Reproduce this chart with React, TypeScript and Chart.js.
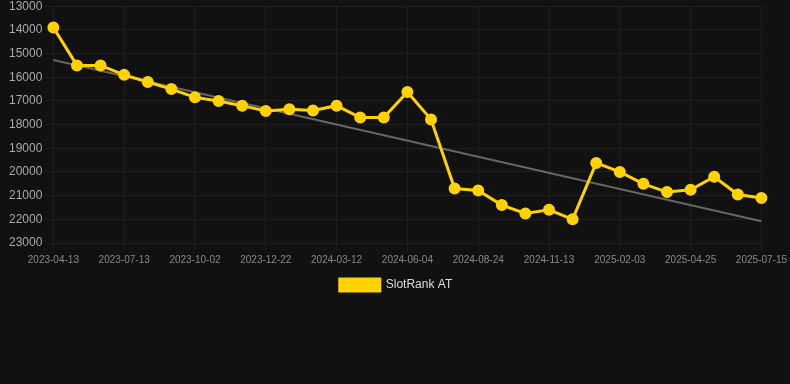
import React, { useEffect, useRef } from "react";
import { Chart, registerables } from "chart.js";

Chart.register(...registerables);

const categories = [
  "2023-04-13", "2023-05-13", "2023-06-13", "2023-07-13", "2023-08-09", "2023-09-05",
  "2023-10-02", "2023-10-29", "2023-11-25", "2023-12-22", "2024-01-18", "2024-02-14",
  "2024-03-12", "2024-04-08", "2024-05-06", "2024-06-04", "2024-07-01", "2024-07-28",
  "2024-08-24", "2024-09-20", "2024-10-17", "2024-11-13", "2024-12-10", "2025-01-07",
  "2025-02-03", "2025-03-02", "2025-03-29", "2025-04-25", "2025-05-22", "2025-06-18",
  "2025-07-15",
];

const slotRankAT = [
  13900, 15500, 15500, 15900, 16200, 16500, 16850, 17000, 17200, 17430, 17350,
  17400, 17200, 17700, 17700, 16620, 17780, 20700, 20780, 21400, 21750, 21600,
  22000, 19620, 20000, 20500, 20850, 20750, 20200, 20950, 21100,
];

const trendEnds = [15270, 22080];

const yTicks = [13000, 23000];

export default function App() {
  const ref = useRef<HTMLCanvasElement | null>(null);

  useEffect(() => {
    document.body.style.margin = "0";
    document.body.style.background = "#111111";
    const trend = categories.map((_, i) =>
      i === 0 ? trendEnds[0] : i === categories.length - 1 ? trendEnds[1] : null
    );
    const chart = new Chart(ref.current!, {
      type: "line",
      data: {
        labels: categories,
        datasets: [
          {
            label: "SlotRank AT",
            data: slotRankAT,
            borderColor: "#FFD200",
            backgroundColor: "#FFD200",
            borderWidth: 3,
            pointRadius: 4.5,
            pointBackgroundColor: "#FFD200",
            pointBorderColor: "#FFD200",
            tension: 0,
          },
          {
            label: "trend",
            data: trend,
            borderColor: "#666666",
            backgroundColor: "#666666",
            borderWidth: 2,
            pointRadius: 0,
            spanGaps: true,
          },
        ],
      },
      options: {
        animation: false,
        responsive: false,
        maintainAspectRatio: false,
        layout: { padding: { top: 0, right: 4, left: 6, bottom: 0 } },
        plugins: {
          tooltip: { enabled: false },
          legend: {
            position: "bottom",
            labels: {
              filter: (item) => item.text !== "trend",
              color: "#dddddd",
              font: { family: "Liberation Sans, Arial", size: 12 },
              boxWidth: 40,
              boxHeight: 12,
              padding: 10,
            },
          },
        },
        scales: {
          x: {
            grid: { color: "#1e1e1e", tickColor: "#1e1e1e" },
            border: { color: "#1e1e1e" },
            ticks: {
              color: "#888888",
              font: { family: "Liberation Sans, Arial", size: 10 },
              maxRotation: 0,
              autoSkip: true,
              maxTicksLimit: 11,
            },
          },
          y: {
            reverse: true,
            min: yTicks[0],
            max: yTicks[1],
            grid: { color: "#1e1e1e", tickColor: "#1e1e1e" },
            border: { color: "#1e1e1e" },
            ticks: {
              stepSize: 1000,
              color: "#aaaaaa",
              font: { family: "Liberation Sans, Arial", size: 12 },
              callback: (v) => String(v),
            },
          },
        },
      },
    });
    return () => chart.destroy();
  }, []);

  return (
    <div style={{ width: 790, height: 384, background: "#111111", overflow: "hidden" }}>
      <canvas
        ref={ref}
        width={790}
        height={305}
        style={{ display: "block", position: "relative", top: -4 }}
      />
    </div>
  );
}
